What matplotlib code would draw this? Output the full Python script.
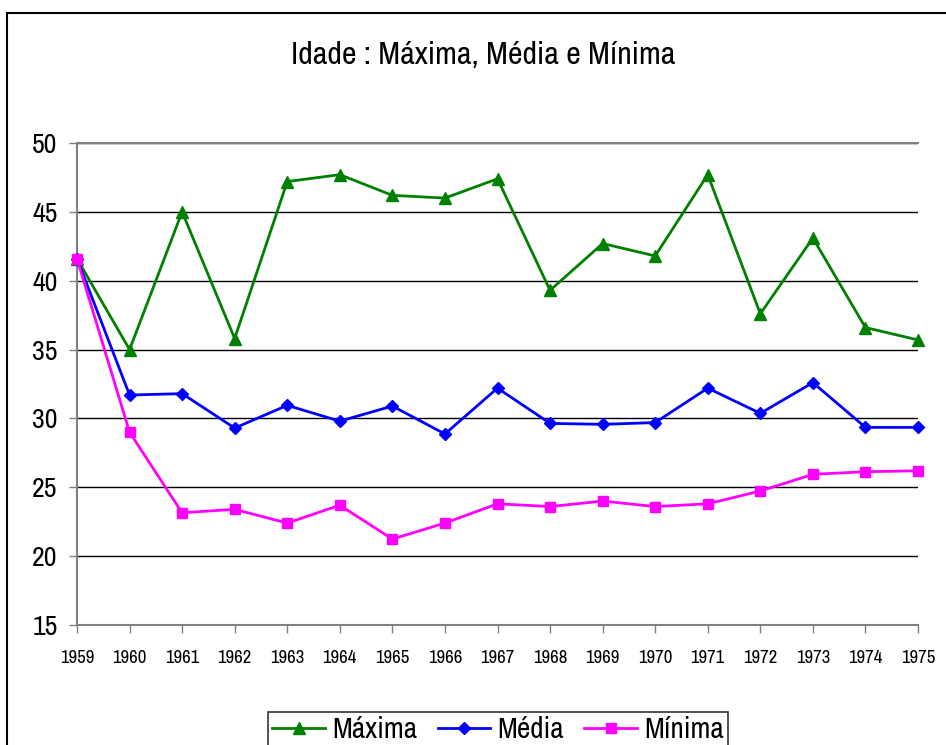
import matplotlib
matplotlib.use("Agg")
import matplotlib.pyplot as plt
from matplotlib.patches import Rectangle
from matplotlib import font_manager

years = list(range(1959, 1976))
maxima = [41.6, 35.0, 45.0, 35.8, 47.2, 47.7, 46.2, 46.0, 47.4, 39.3, 42.7, 41.8, 47.7, 37.6, 43.1, 36.6, 35.7]
media = [41.6, 31.7, 31.8, 29.3, 30.95, 29.8, 30.9, 28.87, 32.2, 29.64, 29.57, 29.7, 32.2, 30.37, 32.6, 29.35, 29.35]
minima = [41.6, 29.0, 23.15, 23.4, 22.4, 23.7, 21.24, 22.4, 23.8, 23.6, 24.0, 23.6, 23.8, 24.73, 25.94, 26.13, 26.2]
yticks = [15, 20, 25, 30, 35, 40, 45, 50]
title = "Idade : Máxima, Média e Mínima"
labels = ["Máxima", "Média", "Mínima"]

names = {f.name for f in font_manager.fontManager.ttflist}
prefs = ["Arial Narrow", "Liberation Sans Narrow", "Arimo Narrow", "Archivo Narrow",
         "PT Sans Narrow", "Roboto Condensed", "Pragati Narrow", "Open Sans Condensed",
         "Encode Sans Condensed", "Fira Sans Condensed", "IBM Plex Sans Condensed",
         "Liberation Sans"]
fam = [n for n in prefs if n in names][:1] + ["DejaVu Sans"]
plt.rcParams['font.family'] = fam

W, H = 946, 745
fig = plt.figure(figsize=(W / 100, H / 100), dpi=100)
ax = fig.add_axes([77 / W, 1 - 625 / H, (918 - 77) / W, (625 - 143) / H])

ax.plot(years, maxima, color="#008000", lw=2, marker="^", ms=9, clip_on=False, label=labels[0], zorder=3)
ax.plot(years, media, color="#0000FF", lw=2, marker="D", ms=6.5, clip_on=False, label=labels[1], zorder=4)
ax.plot(years, minima, color="#FF00FF", lw=2, marker="s", ms=7.5, clip_on=False, label=labels[2], zorder=5)

ax.set_xlim(1959, 1975)
ax.set_ylim(15, 50)
ax.set_yticks(yticks)
ax.set_yticklabels([str(v) for v in yticks], fontsize=20)
ax.set_xticks(years)
ax.set_xticklabels([str(y) for y in years], fontsize=13.5)
ax.grid(axis="y", color="black", lw=1, zorder=1)
ax.set_axisbelow(True)
for s in ["left", "bottom", "top"]:
    ax.spines[s].set_color("#808080")
    ax.spines[s].set_linewidth(1.5)
ax.spines["right"].set_visible(False)
ax.tick_params(axis="y", length=6, width=1, color="#808080", pad=8)
ax.tick_params(axis="x", length=6, width=1, color="#808080", pad=12)

fig.text(483 / W, 1 - 55 / H, title, ha="center", va="center", fontsize=23)

leg = fig.legend(loc="upper center", bbox_to_anchor=(498 / W, 1 - 697 / H), ncol=3,
                 fontsize=21, frameon=True, fancybox=False, handlelength=1.8,
                 handletextpad=0.25, columnspacing=0.7, borderpad=0.15)
leg.get_frame().set_edgecolor("black")
leg.get_frame().set_linewidth(1.2)

fig.patches.append(Rectangle((7 / W, -0.1), 1.2, 1.1 - 13 / H, transform=fig.transFigure,
                             fill=False, edgecolor="black", lw=1.5))

fig.savefig("out.png", dpi=100)
